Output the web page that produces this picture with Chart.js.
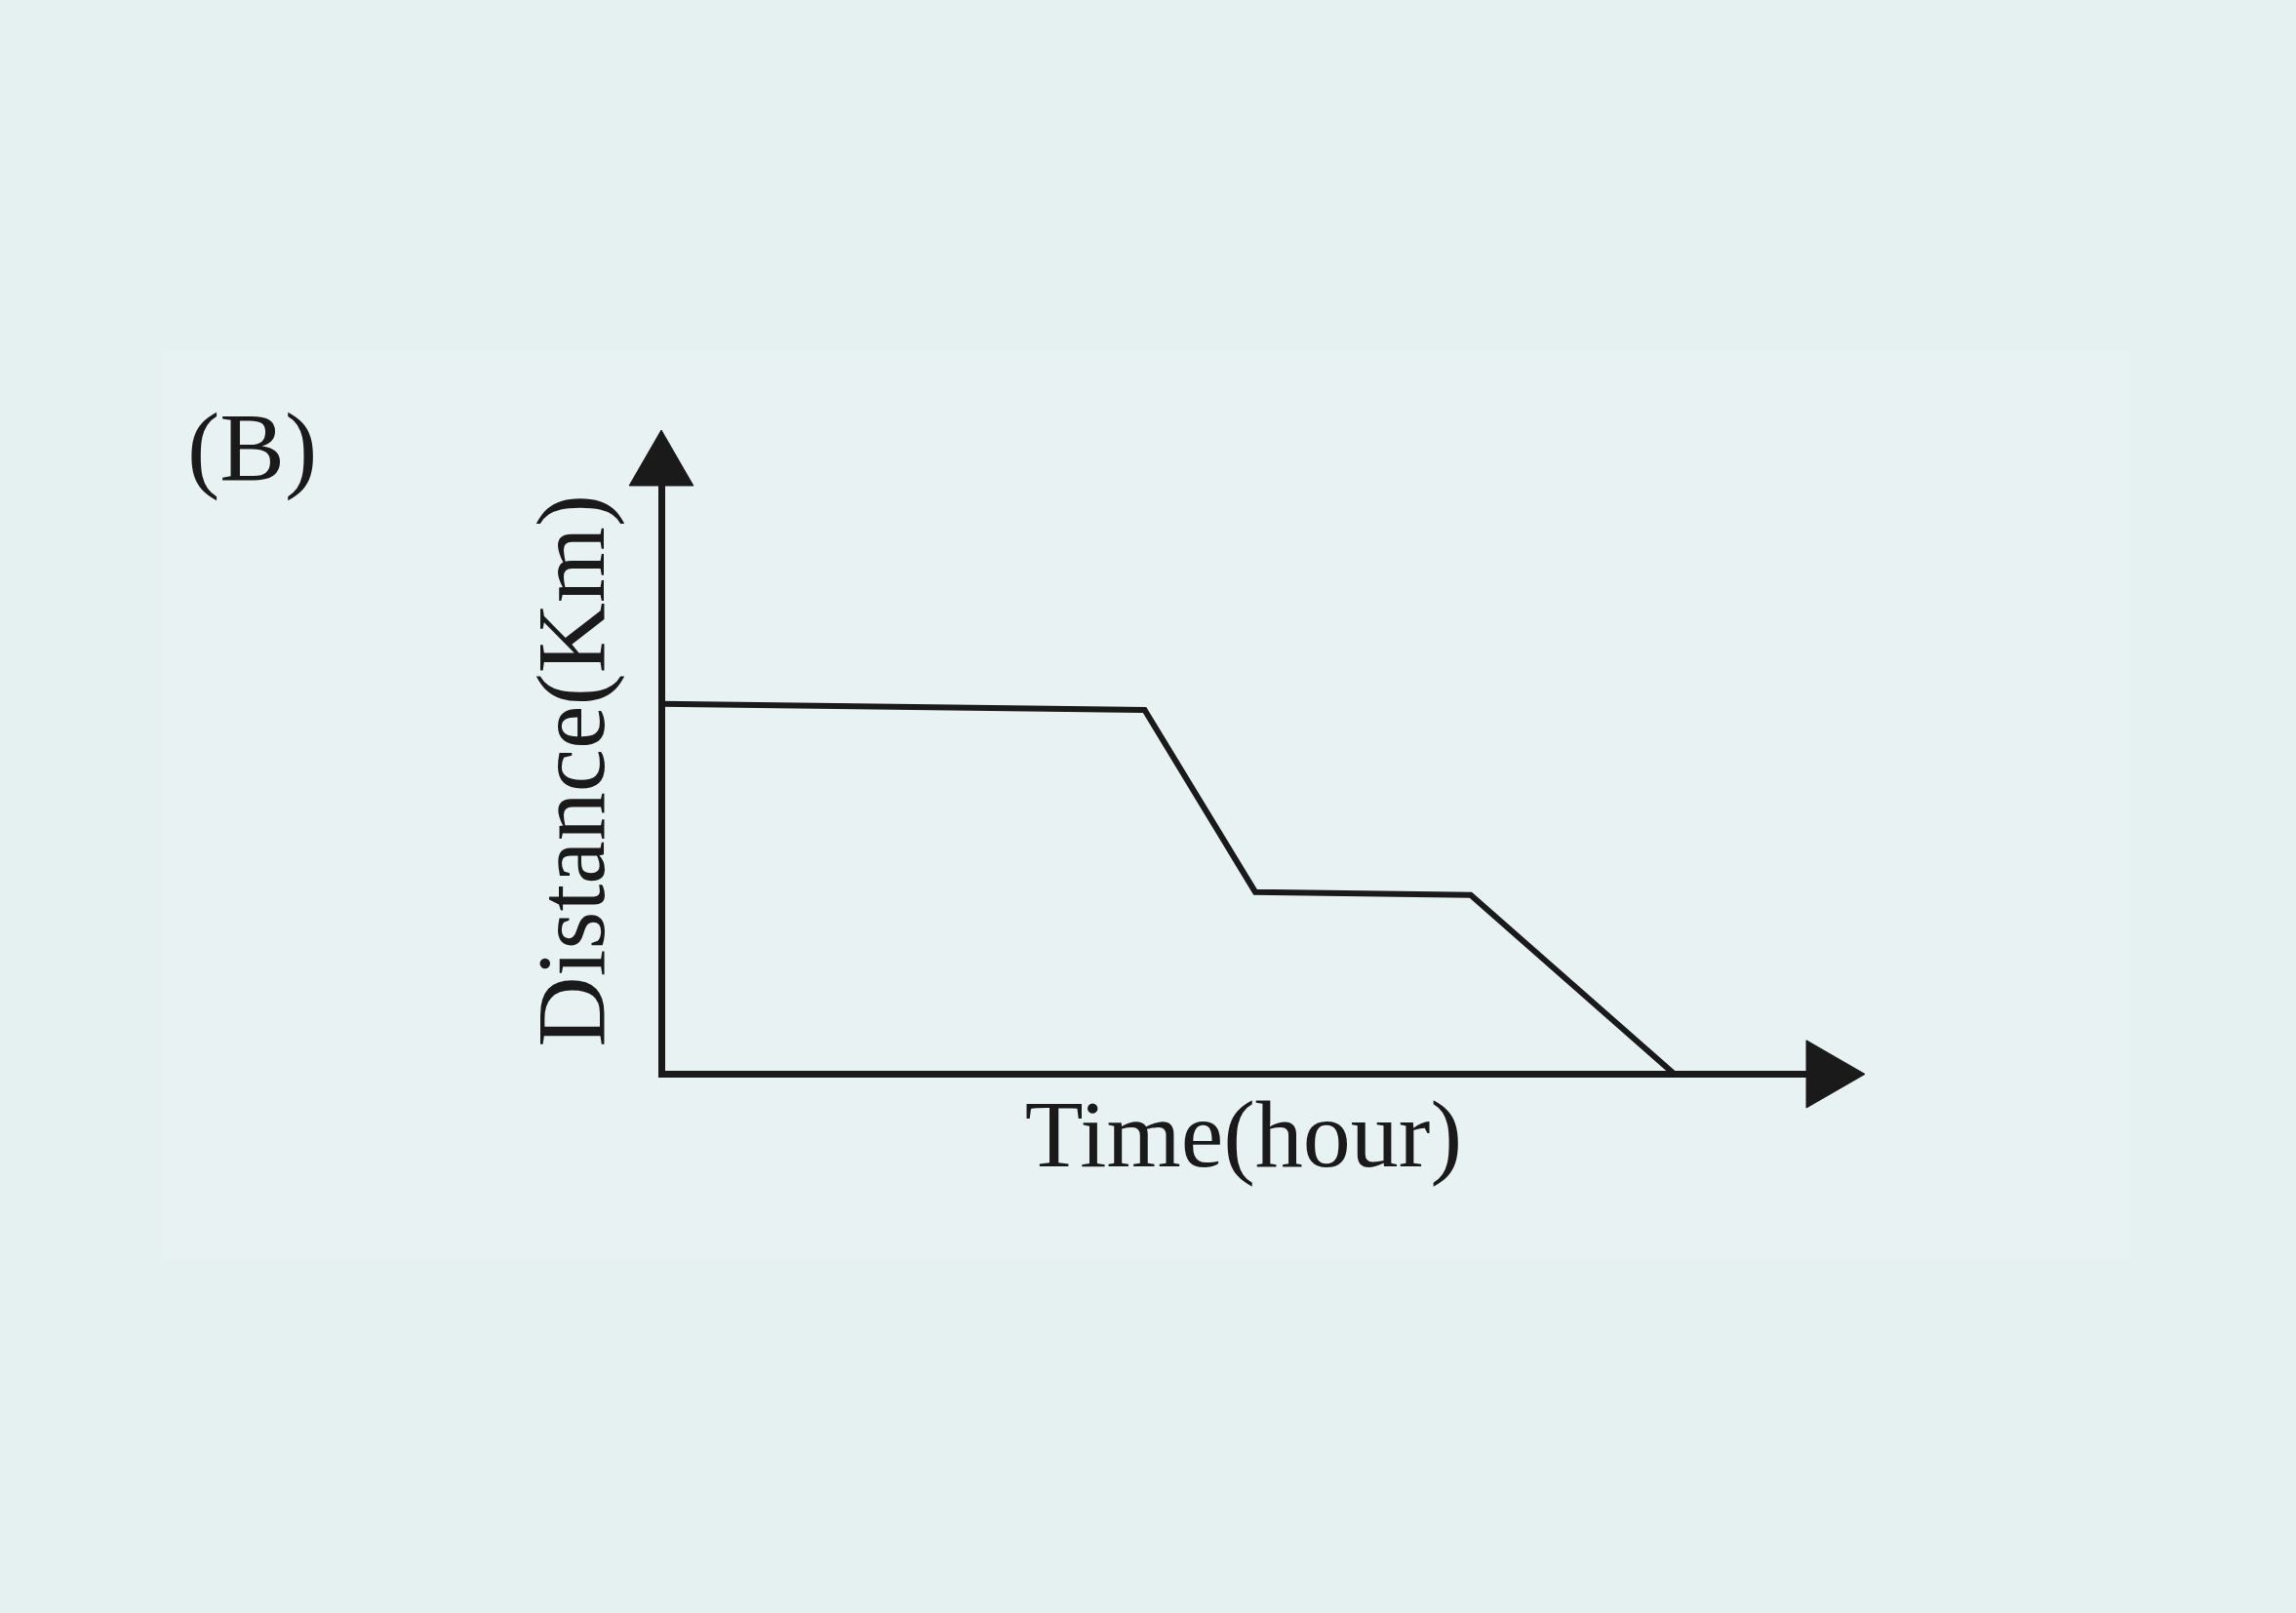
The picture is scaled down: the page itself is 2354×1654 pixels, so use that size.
<!DOCTYPE html>
<html>
<head>
<meta charset="utf-8">
<script src="https://cdn.jsdelivr.net/npm/chart.js@4.4.1/dist/chart.umd.min.js"></script>
<style>
html, body { margin: 0; padding: 0; background: #e5f1f1; }
canvas { display: block; }
</style>
</head>
<body>
<canvas id="myChart" width="2354" height="1654"></canvas>
<script>
// values (no ticks in the original, units are arbitrary)
var timeValues = [0, 4.15, 5.1, 6.95, 8.7];
var distanceValues = [6.1, 6.0, 3.0, 2.95, 0];
var xMax = 10;
var yMax = 10;
var panelLabel = '(B)';
var xTitle = 'Time(hour)';
var yTitle = 'Distance(Km)';

var ink = '#1a1a1a';

function toPoints(xs, ys) {
    return xs.map(function(x, i) { return {x: x, y: ys[i]}; });
}

var paper = {
    id: 'paper',
    beforeDraw: function(chart) {
        var ctx = chart.ctx;
        ctx.save();
        ctx.fillStyle = '#e5f1f1';
        ctx.fillRect(0, 0, chart.width, chart.height);
        ctx.fillStyle = '#e8f2f2';
        ctx.fillRect(165, 360, 2019, 931);
        ctx.restore();
    },
    afterDraw: function(chart) {
        var ctx = chart.ctx;
        ctx.save();
        ctx.fillStyle = ink;
        ctx.font = '100px "Liberation Serif", "Times New Roman", serif';
        ctx.textBaseline = 'alphabetic';
        ctx.fillText(panelLabel, 192, 492);
        ctx.restore();
    }
};

Chart.defaults.font.family = '"Liberation Serif", "Times New Roman", serif';
Chart.defaults.color = ink;

var ctx = document.getElementById('myChart').getContext('2d');
var chart = new Chart(ctx, {
    type: 'scatter',
    data: {
        datasets: [
            {
                label: 'distance',
                data: toPoints(timeValues, distanceValues),
                showLine: true,
                borderColor: ink,
                borderWidth: 6,
                borderJoinStyle: 'miter',
                pointRadius: 0,
                tension: 0,
                fill: false,
                clip: false
            },
            {
                label: 'y arrow',
                data: [{x: 0, y: yMax}],
                pointStyle: 'triangle',
                pointRadius: 38,
                pointRotation: 0,
                backgroundColor: ink,
                borderColor: ink,
                borderWidth: 1,
                clip: false
            },
            {
                label: 'x arrow',
                data: [{x: xMax, y: 0}],
                pointStyle: 'triangle',
                pointRadius: 40,
                pointRotation: 90,
                backgroundColor: ink,
                borderColor: ink,
                borderWidth: 1,
                clip: false
            }
        ]
    },
    options: {
        responsive: false,
        animation: false,
        events: [],
        layout: {
            padding: {left: 533, right: 482, top: 479, bottom: 425}
        },
        plugins: {
            legend: {display: false},
            tooltip: {enabled: false}
        },
        scales: {
            x: {
                type: 'linear',
                min: 0,
                max: xMax,
                grid: {display: false, drawTicks: false},
                border: {display: true, color: ink, width: 7},
                ticks: {display: false},
                title: {
                    display: true,
                    text: xTitle,
                    color: ink,
                    font: {size: 98, lineHeight: 1.2},
                    padding: {top: 10, bottom: 0}
                }
            },
            y: {
                type: 'linear',
                min: 0,
                max: yMax,
                grid: {display: false, drawTicks: false},
                border: {display: true, color: ink, width: 7},
                ticks: {display: false},
                title: {
                    display: true,
                    text: yTitle,
                    color: ink,
                    font: {size: 100, lineHeight: 1.2},
                    padding: {top: 0, bottom: 25}
                }
            }
        }
    },
    plugins: [paper]
});
</script>
</body>
</html>
